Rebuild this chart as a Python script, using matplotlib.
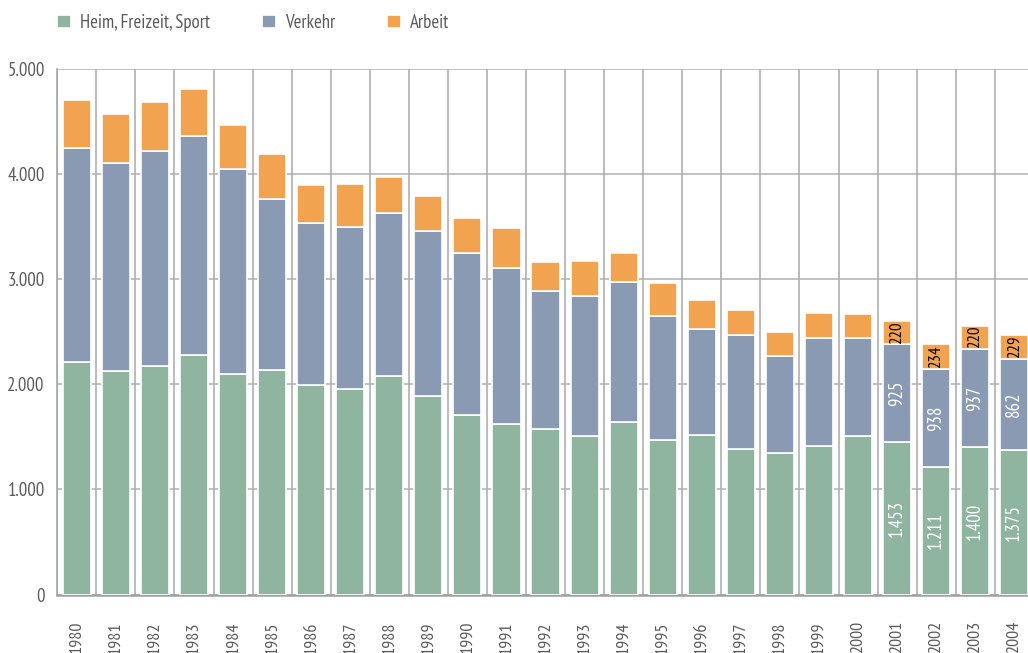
import matplotlib
matplotlib.use("Agg")
import matplotlib.pyplot as plt
import numpy as np

years = [str(y) for y in range(1980, 2005)]
heim = [2214, 2128, 2173, 2278, 2097, 2135, 1990, 1955, 2078, 1888, 1708, 1619, 1575,
        1505, 1641, 1473, 1515, 1387, 1346, 1416, 1511, 1453, 1211, 1400, 1375]
verkehr = [2028, 1974, 2043, 2081, 1951, 1628, 1545, 1542, 1549, 1568, 1536, 1482, 1314,
           1333, 1330, 1178, 1010, 1084, 919, 1020, 928, 925, 938, 937, 862]
arbeit = [459, 466, 463, 446, 412, 425, 355, 403, 345, 330, 335, 380, 275,
          333, 276, 314, 275, 234, 228, 244, 231, 220, 234, 220, 229]
series_names = ["Heim, Freizeit, Sport", "Verkehr", "Arbeit"]
colors = ["#8fb5a0", "#8a9ab3", "#f2a350"]
labelled_years = ["2001", "2002", "2003", "2004"]

plt.rcParams['font.family'] = ['PT Sans Narrow', 'DejaVu Sans']
txt = "#5a5a5a"

fig = plt.figure(figsize=(10.28, 6.53), dpi=100)
W, H = 1028, 653
x0, x1 = 57.3, 1033.8
ytop, ybot = 68.5, 594.7
ax = fig.add_axes([x0 / W, (H - ybot) / H, (x1 - x0) / W, (ybot - ytop) / H])

x = np.arange(len(years))
bw = 0.72
h = np.array(heim); v = np.array(verkehr); a = np.array(arbeit)
b1 = ax.bar(x, h, bw, color=colors[0], edgecolor="white", linewidth=1.2, label=series_names[0], zorder=3)
b2 = ax.bar(x, v, bw, bottom=h, color=colors[1], edgecolor="white", linewidth=1.2, label=series_names[1], zorder=3)
b3 = ax.bar(x, a, bw, bottom=h + v, color=colors[2], edgecolor="white", linewidth=1.2, label=series_names[2], zorder=3)

def fmt(n):
    return f"{n:,}".replace(",", ".")

for i, yr in enumerate(years):
    if yr in labelled_years:
        ax.text(i, h[i] / 2, fmt(h[i]), rotation=90, ha="center", va="center",
                color="white", fontsize=13.5, zorder=4)
        ax.text(i, h[i] + v[i] / 2, fmt(v[i]), rotation=90, ha="center", va="center",
                color="white", fontsize=13.5, zorder=4)
        ax.text(i, h[i] + v[i] + a[i] / 2, fmt(a[i]), rotation=90, ha="center", va="center",
                color="black", fontsize=12, zorder=4)

ax.set_xlim(-0.5, len(years) - 0.5)
ax.set_ylim(0, 5000)
ax.set_yticks([0, 1000, 2000, 3000, 4000, 5000])
ax.set_yticklabels(["0", "1.000", "2.000", "3.000", "4.000", "5.000"])
ax.set_xticks(x)
ax.set_xticklabels(years, rotation=90, va="top")
ax.set_xticks(np.arange(-0.5, len(years) - 0.4, 1), minor=True)
ax.grid(True, axis="x", which="minor", color="#a8a8a8", linewidth=1.1, zorder=1)
ax.grid(True, axis="y", which="major", color="#b0b0b0", linewidth=1.1, zorder=1)
ax.set_axisbelow(True)
ax.tick_params(axis="both", which="both", length=0, colors=txt)
ax.tick_params(axis="y", pad=9, labelsize=13.5)
ax.tick_params(axis="x", pad=19, labelsize=13)
for s in ["top", "right"]:
    ax.spines[s].set_visible(False)
ax.spines["left"].set_color("#a0a0a0")
ax.spines["left"].set_linewidth(1.1)
ax.spines["bottom"].set_color("#a0a0a0")
ax.spines["bottom"].set_linewidth(1.8)

leg = fig.legend(handles=[b1, b2, b3], labels=series_names, ncol=3, loc="upper left",
                 bbox_to_anchor=(57 / W, 1 - 14 / H), frameon=False, fontsize=13.5,
                 borderpad=0, borderaxespad=0,
                 handlelength=0.75, handleheight=0.75, handletextpad=0.45, columnspacing=2.8,
                 labelcolor=txt)
for p in leg.get_patches():
    p.set_edgecolor("white")

fig.savefig("out.png", dpi=100)
